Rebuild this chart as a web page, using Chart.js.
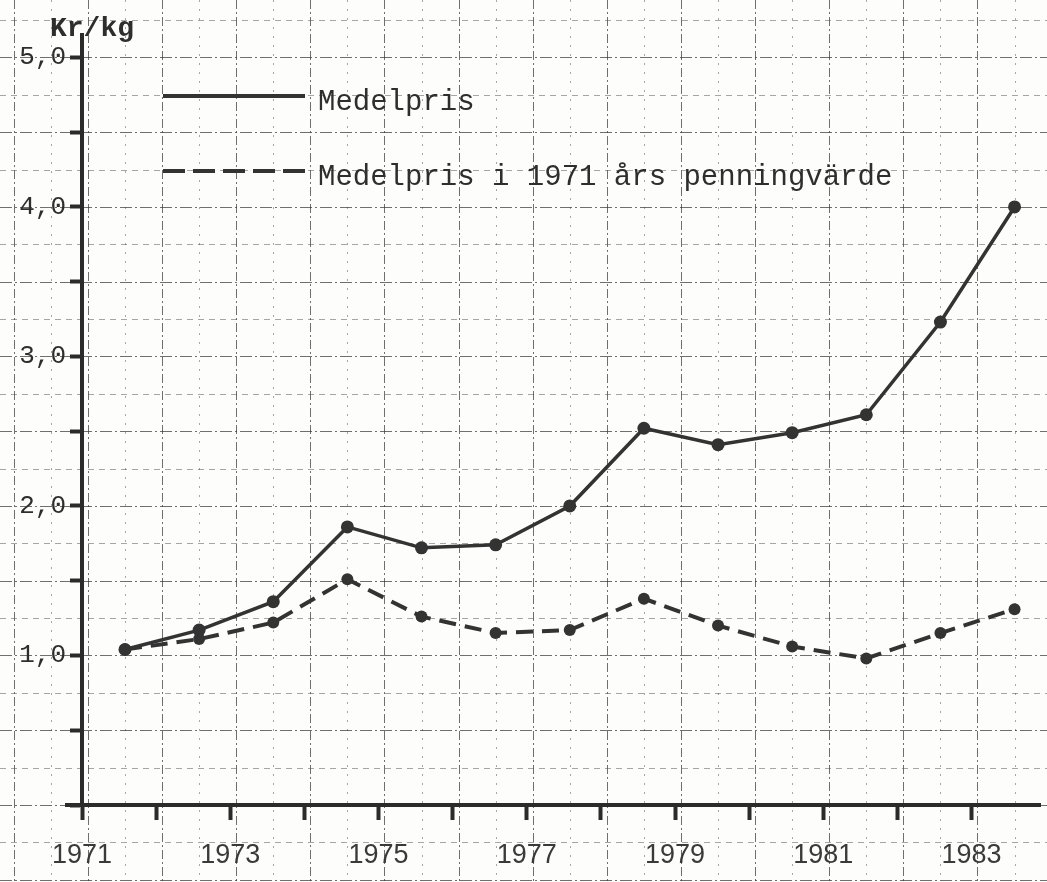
<!DOCTYPE html>
<html>
<head>
<meta charset="utf-8">
<script src="https://cdn.jsdelivr.net/npm/chart.js@4.4.1/dist/chart.umd.min.js"></script>
<style>
  html, body { margin: 0; padding: 0; background: #fdfdfb; }
</style>
</head>
<body>
<canvas id="priceChart" width="1047" height="882"></canvas>
<script>
// Yearly average price, Kr/kg
const years = [1971, 1972, 1973, 1974, 1975, 1976, 1977, 1978, 1979, 1980, 1981, 1982, 1983];
const medelpris = [1.04, 1.17, 1.36, 1.86, 1.72, 1.74, 2.00, 2.52, 2.41, 2.49, 2.61, 3.23, 4.00];
const medelpris1971 = [1.04, 1.11, 1.22, 1.51, 1.26, 1.15, 1.17, 1.38, 1.20, 1.06, 0.98, 1.15, 1.31];
const yearLabels = [1971, 1973, 1975, 1977, 1979, 1981, 1983];
const valueLabels = [1, 2, 3, 4, 5];

const ink = '#333333';
const midYear = 0.58; // points sit in the middle of each year

const toPoints = (vals) => vals.map((v, i) => ({ x: years[i] + midYear, y: v }));

/*
GRAPH PAPER BACKGROUND
*/
const paperGrid = {
  id: 'paperGrid',
  beforeDraw(chart) {
    const { ctx, width, height, scales: { x, y } } = chart;
    ctx.save();
    ctx.fillStyle = '#fdfdfb';
    ctx.fillRect(0, 0, width, height);
    ctx.lineWidth = 1;
    for (let v = 1969.5; v <= 1985; v += 0.5) {
      const px = Math.round(x.getPixelForValue(v + 0.08)) + 0.5;
      const whole = Number.isInteger(v);
      ctx.strokeStyle = whole ? 'rgba(50,50,50,0.7)' : 'rgba(80,80,80,0.5)';
      ctx.setLineDash(whole ? [9, 3, 2, 3] : [2, 7]);
      ctx.beginPath();
      ctx.moveTo(px, 0);
      ctx.lineTo(px, height);
      ctx.stroke();
    }
    for (let v = -0.5; v <= 5.75; v += 0.25) {
      const py = Math.round(y.getPixelForValue(v)) + 0.5;
      const half = Math.abs(v * 2 - Math.round(v * 2)) < 1e-6;
      ctx.strokeStyle = half ? 'rgba(50,50,50,0.7)' : 'rgba(80,80,80,0.5)';
      ctx.setLineDash(half ? [12, 3, 2, 3] : [6, 5]);
      ctx.beginPath();
      ctx.moveTo(0, py);
      ctx.lineTo(width, py);
      ctx.stroke();
    }
    // the hand-drawn x axis runs a little past the y axis
    ctx.setLineDash([]);
    ctx.strokeStyle = '#2b2b2b';
    ctx.lineWidth = 4;
    const y0 = y.getPixelForValue(0);
    ctx.beginPath();
    ctx.moveTo(chart.chartArea.left - 17, y0);
    ctx.lineTo(chart.chartArea.left, y0);
    ctx.stroke();
    ctx.restore();
  }
};

/*
LEGEND AND UNIT TEXT
*/
const paperLegend = {
  id: 'paperLegend',
  afterDraw(chart) {
    const { ctx, chartArea } = chart;
    const x0 = chartArea.left + 81;
    const x1 = chartArea.left + 223;
    chart.data.datasets.forEach((ds, i) => {
      const yy = chartArea.top + 61 + i * 75;
      ctx.save();
      ctx.strokeStyle = ds.borderColor;
      ctx.lineWidth = 4;
      ctx.setLineDash(ds.legendDash || []);
      ctx.beginPath();
      ctx.moveTo(x0, yy);
      ctx.lineTo(x1, yy);
      ctx.stroke();
      ctx.setLineDash([]);
      ctx.fillStyle = '#2e2e2e';
      ctx.font = '29px "Liberation Mono"';
      ctx.textBaseline = 'middle';
      ctx.fillText(ds.label, x1 + 13, yy + 6);
      ctx.restore();
    });
    ctx.save();
    ctx.fillStyle = '#2e2e2e';
    ctx.font = 'bold 28px "Liberation Mono"';
    ctx.textBaseline = 'alphabetic';
    ctx.fillText('Kr/kg', chartArea.left - 32, chartArea.top + 1);
    ctx.restore();
  }
};

const priceConfig = {
  type: 'line',
  data: {
    datasets: [{
      label: 'Medelpris',
      data: toPoints(medelpris),
      borderColor: ink,
      backgroundColor: ink,
      borderWidth: 3.5,
      pointRadius: 6.5,
      pointBorderWidth: 0,
      pointBackgroundColor: ink,
      tension: 0,
      legendDash: []
    }, {
      label: 'Medelpris i 1971 års penningvärde',
      data: toPoints(medelpris1971),
      borderColor: ink,
      backgroundColor: ink,
      borderWidth: 4,
      borderDash: [17, 9],
      pointRadius: 6,
      pointBorderWidth: 0,
      pointBackgroundColor: ink,
      tension: 0,
      legendDash: [22, 8]
    }]
  },
  options: {
    responsive: false,
    animation: false,
    devicePixelRatio: 1,
    layout: { padding: { top: 35, right: 0, bottom: 0, left: 0 } },
    plugins: {
      legend: { display: false },
      tooltip: { enabled: false },
      title: { display: false }
    },
    scales: {
      x: {
        type: 'linear',
        min: 1971,
        max: 1983.93,
        afterFit(scale) {
          scale.height = 77;
          scale.paddingRight = 0;
          scale.paddingLeft = 0;
        },
        ticks: {
          stepSize: 1,
          includeBounds: false,
          autoSkip: false,
          maxRotation: 0,
          padding: 19,
          color: '#3a3a3a',
          font: { family: '"Liberation Sans"', size: 27 },
          callback: (v) => yearLabels.includes(v) ? String(v) : ''
        },
        grid: { drawOnChartArea: false, drawTicks: true, tickLength: 15, tickWidth: 4, tickColor: '#2b2b2b' },
        border: { color: '#2b2b2b', width: 4 }
      },
      y: {
        type: 'linear',
        min: 0,
        max: 5.15,
        afterFit(scale) { scale.width = 82; },
        ticks: {
          stepSize: 0.5,
          includeBounds: false,
          padding: 4,
          color: '#2e2e2e',
          font: { family: '"Liberation Mono"', size: 26 },
          callback: (v) => valueLabels.includes(v) ? v.toFixed(1).replace('.', ',') : ''
        },
        grid: { drawOnChartArea: false, drawTicks: true, tickLength: 12, tickWidth: 4, tickColor: '#2b2b2b' },
        border: { color: '#2b2b2b', width: 4 }
      }
    }
  },
  plugins: [paperGrid, paperLegend]
};

const priceChart = new Chart(
  document.getElementById('priceChart'),
  priceConfig
);
</script>
</body>
</html>
